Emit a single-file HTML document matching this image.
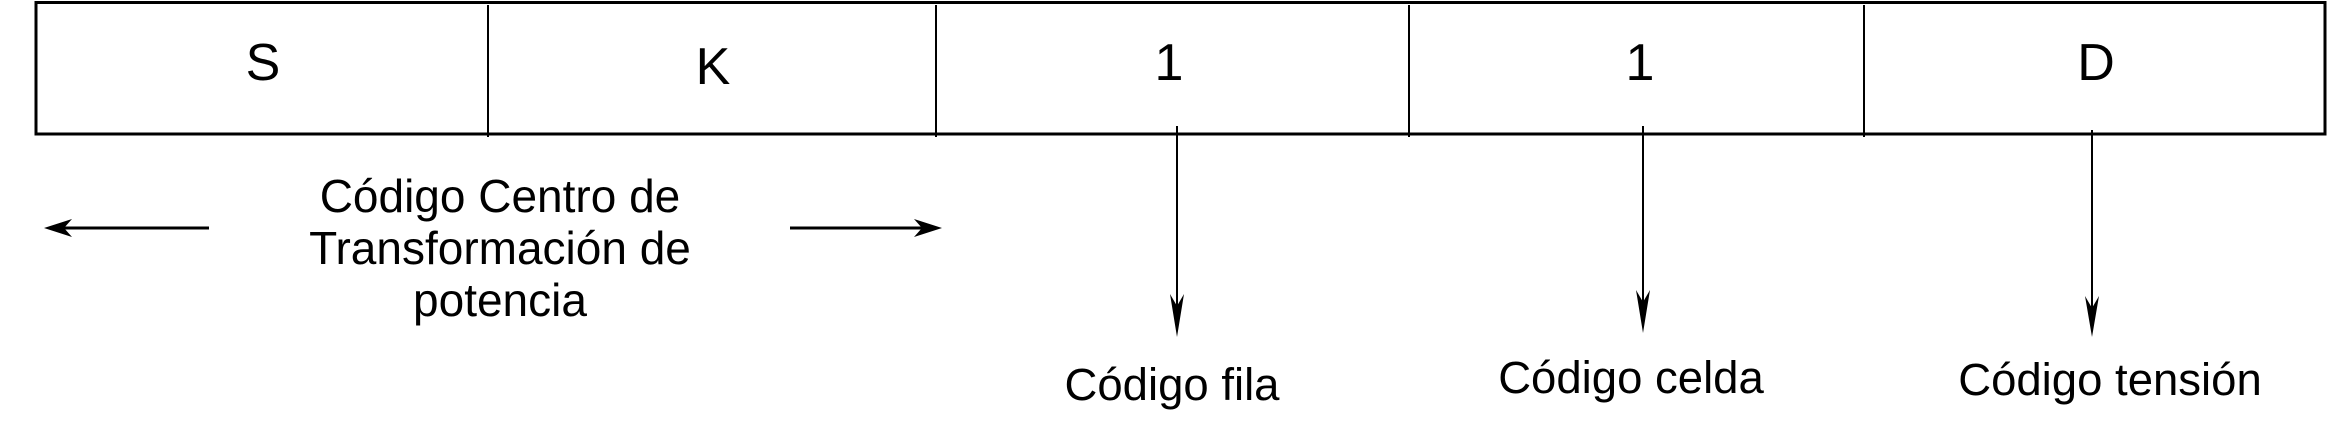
<!DOCTYPE html>
<html><head><meta charset="utf-8"><style>
html,body{margin:0;padding:0;background:#fff;}
svg{display:block;}
text{font-family:"Liberation Sans",Arial,sans-serif;fill:#000;}
</style></head><body>
<svg width="2329" height="442" viewBox="0 0 2329 442" xmlns="http://www.w3.org/2000/svg">
<rect x="36" y="2.5" width="2289" height="131.5" fill="none" stroke="#000" stroke-width="3"/>
<g stroke="#000" stroke-width="2">
<line x1="488" y1="5" x2="488" y2="137"/>
<line x1="936" y1="5" x2="936" y2="137"/>
<line x1="1409" y1="5" x2="1409" y2="137"/>
<line x1="1864" y1="5" x2="1864" y2="137"/>
</g>
<g font-size="52" text-anchor="middle">
<text x="263" y="80">S</text>
<text x="713" y="84">K</text>
<text x="1169" y="80">1</text>
<text x="1640" y="80">1</text>
<text x="2096" y="80">D</text>
</g>
<g stroke="#000" stroke-width="3">
<line x1="60" y1="228" x2="209" y2="228"/>
<line x1="790" y1="228" x2="928" y2="228"/>
</g>
<path d="M44 228 L72 219 L64 228 L72 237 Z" fill="#000"/>
<path d="M942 228 L914 219 L922 228 L914 237 Z" fill="#000"/>
<g font-size="46" text-anchor="middle">
<text x="500" y="212">Código Centro de</text>
<text x="500" y="264">Transformación de</text>
<text x="500" y="316">potencia</text>
</g>
<g stroke="#000" stroke-width="2">
<line x1="1177" y1="126" x2="1177" y2="320"/>
<line x1="1643" y1="126" x2="1643" y2="316"/>
<line x1="2092" y1="130" x2="2092" y2="320"/>
</g>
<path d="M1177 337 L1170 294 L1177 306 L1184 294 Z" fill="#000"/>
<path d="M1643 333 L1636 290 L1643 302 L1650 290 Z" fill="#000"/>
<path d="M2092 337 L2085 296 L2092 308 L2099 296 Z" fill="#000"/>
<g font-size="45.5" text-anchor="middle">
<text x="1172" y="400">Código fila</text>
<text x="1631" y="393">Código celda</text>
<text x="2110" y="395">Código tensión</text>
</g>
</svg>
</body></html>
